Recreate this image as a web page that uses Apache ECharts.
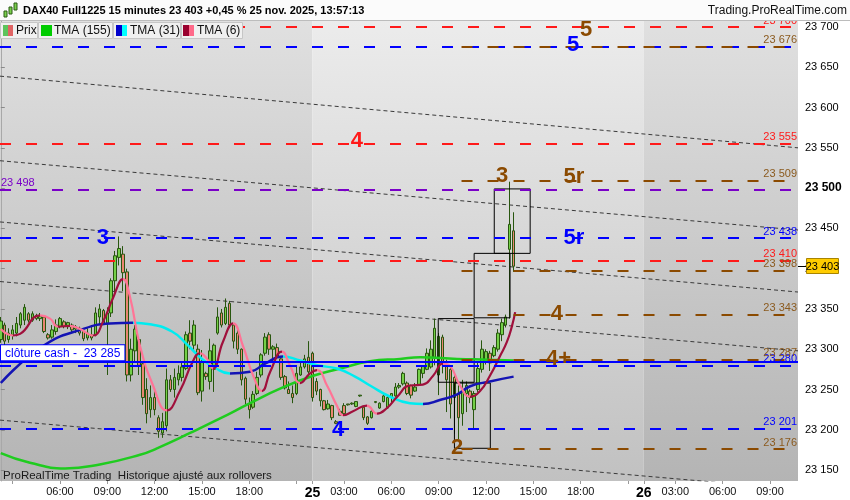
<!DOCTYPE html>
<html><head><meta charset="utf-8">
<script src="https://cdn.jsdelivr.net/npm/echarts@6/dist/echarts.min.js"></script>
<style>html,body{margin:0;padding:0;background:#fff}#c{width:850px;height:500px}</style>
</head><body><div id="c"></div>
<script>
// ---- DATA (bar index 0 = 24 nov 02:15, one bar = 15 min, 84 bars per session 01:00-22:00) ----
const candles24 = [ // [open, close, low, high]
[23312,23335,23308,23340],[23330,23310,23305,23333],[23312,23320,23308,23326],[23318,23324,23312,23330],
[23320,23332,23316,23340],[23330,23344,23326,23346],[23336,23352,23330,23356],[23344,23336,23333,23346],
[23336,23344,23334,23347],[23342,23338,23336,23344],[23338,23341,23335,23345],[23340,23322,23320,23342],
[23318,23314,23312,23320],[23315,23324,23313,23330],[23322,23330,23318,23337],[23328,23338,23326,23340],
[23334,23328,23326,23336],[23328,23333,23325,23334],[23330,23324,23321,23332],[23325,23328,23320,23330],
[23326,23320,23317,23328],[23322,23313,23310,23326],[23314,23320,23311,23326],[23318,23314,23311,23330],
[23318,23345,23316,23352],[23340,23350,23330,23356],[23348,23332,23330,23350],[23332,23345,23268,23352],
[23345,23385,23340,23388],[23385,23416,23368,23422],[23414,23425,23404,23440],[23418,23395,23372,23428],
[23396,23268,23260,23400],[23268,23300,23260,23313],[23298,23325,23285,23330],[23312,23280,23268,23314],
[23282,23240,23231,23284],[23250,23220,23208,23264],[23225,23240,23215,23255],[23240,23225,23218,23251],
[23215,23198,23190,23218],[23196,23210,23190,23221],[23205,23262,23198,23276],[23262,23250,23247,23268],
[23250,23265,23240,23276],[23262,23270,23255,23280],[23265,23278,23260,23285],[23276,23318,23274,23322],
[23320,23310,23300,23336],[23305,23330,23298,23336],[23300,23246,23243,23306],[23248,23285,23235,23299],
[23270,23266,23262,23272],[23260,23298,23250,23313],[23275,23305,23247,23307],[23320,23340,23318,23352],
[23345,23330,23327,23350],[23332,23352,23330,23363],[23357,23330,23327,23360],[23330,23310,23301,23332],
[23320,23300,23294,23326],[23300,23262,23255,23301],[23264,23238,23232,23266],[23232,23225,23214,23240],
[23228,23244,23226,23248],[23245,23265,23243,23272],[23268,23293,23265,23295],[23295,23315,23292,23320],
[23318,23300,23293,23321],[23300,23303,23284,23305],[23302,23290,23288,23307],[23288,23265,23262,23289],
[23266,23252,23250,23268],[23250,23245,23245,23260],[23245,23240,23233,23255],[23245,23270,23243,23280],
[23268,23278,23267,23284],[23278,23288,23276,23293],[23290,23272,23265,23310]
];
const candles25 = [
[23295,23240,23235,23297],[23260,23248,23243,23264],[23250,23236,23229,23251],[23236,23225,23224,23237],
[23226,23232,23225,23237],[23230,23215,23212,23231],[23210,23208,23207,23212],[23223,23218,23218,23226],
[23230,23220,23218,23233],[23232,23231,23230,23232],[23232,23233,23231,23234],[23229,23235,23228,23235],
[23242,23243,23241,23243],[23228,23215,23212,23229],[23216,23208,23206,23217],[23215,23223,23214,23225],
[23234,23235,23233,23235],[23227,23233,23226,23234],[23235,23242,23234,23245],[23227,23240,23226,23243],
[23240,23245,23233,23245],[23242,23253,23241,23258],[23253,23255,23251,23258],[23257,23270,23255,23272],
[23258,23245,23243,23260],[23255,23243,23239,23256],[23248,23253,23247,23258],[23256,23275,23255,23276],
[23270,23279,23264,23280],[23275,23295,23274,23301],[23278,23300,23276,23311],[23290,23326,23280,23338],
[23268,23316,23243,23320],[23315,23282,23270,23318],[23280,23262,23222,23287],[23275,23232,23214,23280],
[23265,23240,23195,23270],[23245,23215,23188,23255],[23220,23248,23205,23262],[23245,23255,23222,23260],
[23248,23240,23233,23250],[23225,23245,23202,23248],[23250,23276,23247,23285],[23275,23300,23271,23311],
[23285,23297,23281,23300],[23295,23283,23273,23298],[23292,23302,23290,23305],[23300,23320,23297,23325],
[23318,23333,23310,23338],[23330,23340,23327,23343],[23424,23455,23338,23508],[23447,23403,23396,23470]
];
const ma155 = [[0,23171],[7.4,23159],[16.3,23152],[25.1,23157],[35.3,23169],[39.6,23177],[48,23196],[55.6,23214],
[63.2,23233],[70.8,23251],[79.2,23267],[86,23276],[93.6,23285],[101.2,23288],[106.3,23290],[115.7,23288],[123.3,23287],[130,23286]];
const ma31 = [[0,23258],[10.7,23304],[20.8,23325],[27.7,23332],[33.5,23333],[37.8,23331],[43.4,23322],[47.2,23306],
[50.5,23290],[54.3,23277],[58.1,23270],[63.2,23272],[67,23282],[71.5,23291],[75.9,23286],[80.2,23280],[85.2,23276],
[89.8,23266],[93.6,23255],[98.7,23241],[103.7,23233],[107,23232],[111.3,23237],[115.7,23244],[119,23254],[124,23260],[130,23266]];
const ma6 = [[0,23325],[3.1,23317],[4.9,23319],[9.9,23342],[12.5,23338],[14.5,23328],[17.5,23329],[20.1,23325],[23.4,23317],
[25.9,23334],[28.4,23363],[31,23387],[32.7,23366],[35.3,23304],[38.6,23255],[42.1,23224],[45.4,23248],[48.7,23285],
[50.5,23295],[52.3,23288],[53.8,23276],[56.3,23309],[58.9,23332],[61.4,23304],[64,23267],[66.2,23248],[68.3,23272],
[71.3,23297],[73.3,23280],[75.9,23258],[78.4,23270],[80.2,23274],[82.7,23255],[85.2,23230],[86.8,23218],[89.3,23223],
[92.8,23230],[95.4,23220],[97.9,23227],[100.5,23241],[103.7,23255],[107,23256],[109.6,23267],[112.1,23282],[113.9,23279],
[116.4,23255],[119,23241],[121.5,23248],[124,23267],[126.6,23292],[128.3,23309],[129.6,23329],[130.4,23346]];
const trendLines = [ // [startBar, startPrice, endBar, endPrice]
[-0.2,23639,202.1,23550],[-0.2,23534,202.1,23448],[-0.2,23458,202.1,23371],[-0.2,23384,202.1,23298],[-0.2,23212,202.1,23126]];
const redLevels = [23700, 23555, 23410];
const blueLevels = [23676, 23438, 23280, 23201];
const purpleLevels = [23498];
const brownLevels = [23676, 23509, 23398, 23343, 23287, 23176];
const brownFromBar = 116.8;
const cashClose = 23285;
const lastPrice = 23403;
const annotations = [ // [bar, price, text, family]
[102,23713,'4r','red'],[148.4,23696,'5','brown'],[145.1,23678,'5','blue'],[90.3,23559,'4','red'],
[127.1,23515,'3','brown'],[145.3,23514,'5r','brown'],[25.9,23438,'3','blue'],[145.3,23438,'5r','blue'],
[141,23344,'4','brown'],[141.4,23288,'4+','brown'],[85.5,23200,'4','blue'],[115.7,23177,'2','brown']];
const boxes = [[110.9,120,23259,23338],[115,124.1,23177,23258],[120,129.1,23339,23419],[125.1,134.2,23419,23499]];
const dayBands = [[-0.2,79],[79,163],[163,202.1]];
const xTickBars = [3,15,27,39,51,63,75,79,87,99,111,123,135,147,159,163,171,183,195];
const xTickLabels = ['','06:00','09:00','12:00','15:00','18:00','','25','03:00','06:00','09:00','12:00','15:00','18:00','','26','03:00','06:00','09:00'];
const yTicks = [23150,23200,23250,23300,23350,23400,23450,23500,23550,23600,23650,23700];
const X_MIN = -0.2, X_MAX = 202.1, Y_MIN = 23136.4, Y_MAX = 23708.7;

// ---- build ----
const FONT = "'Liberation Sans', Arial, sans-serif";
const COL = {red:'#ff1a1a', blue:'#0000ff', purple:'#7a00c8', brown:'#8b4a00'};
const fmt = v => { const s = String(Math.round(v)); return s.slice(0, s.length-3) + ' ' + s.slice(-3); };
const candleData = candles24.concat(candles25).map((d,i) => [i].concat(d));
const dash = [11, 15];

function pieces(pts, upColor, downColor) {
  const out = [];
  let start = -10, dir = null;
  for (let i = 0; i < pts.length - 1; i++) {
    const up = pts[i+1][1] >= pts[i][1];
    if (dir === null) dir = up;
    else if (up !== dir) { out.push({gte:start, lt:pts[i][0], color: dir?upColor:downColor}); start = pts[i][0]; dir = up; }
  }
  out.push({gte:start, lte:1000, color: dir?upColor:downColor});
  return out;
}

function levelLine(v, color, withLabel, labelPos) {
  return {yAxis:v, lineStyle:{color, type:dash, width:2},
    label:{show:withLabel, position:labelPos||'insideEndTop', formatter:fmt(v), color, fontSize:11, fontFamily:FONT, distance:1}};
}
const markLines = [];
redLevels.forEach(v => markLines.push(levelLine(v, COL.red, true)));
blueLevels.forEach(v => markLines.push(levelLine(v, COL.blue, v !== 23676)));
purpleLevels.forEach(v => markLines.push(levelLine(v, COL.purple, true, 'insideStartTop')));
brownLevels.forEach(v => markLines.push([
  {coord:[brownFromBar, v], lineStyle:{color:COL.brown, type:dash, width:2},
   label:{show:true, position:'insideEndTop', formatter:fmt(v), color:'#8b5a1e', fontSize:11, fontFamily:FONT, distance:1}},
  {coord:[X_MAX, v]}]));
markLines.push({yAxis:cashClose, lineStyle:{color:'#0000ff', type:'solid', width:2},
  label:{show:true, position:'insideStartTop', formatter:'clôture cash -  ' + fmt(cashClose), color:'#0000ff',
    backgroundColor:'#fff', borderColor:'#0000ff', borderWidth:1, padding:[2,4,1,4], fontSize:12, fontFamily:FONT, distance:1}});

const series = [];
// background day bands
series.push({type:'line', data:[], z:0, silent:true,
  markArea:{silent:true, z:0, data: dayBands.map((b,i) => [{xAxis:b[0], itemStyle:{color:{type:'linear',x:0,y:0,x2:0,y2:1,
    colorStops: i%2 ? [{offset:0,color:'#ececec'},{offset:1,color:'#c1c1c1'}] : [{offset:0,color:'#e0e0e0'},{offset:1,color:'#b4b4b4'}]}}}, {xAxis:b[1]}])}});
// trend lines
trendLines.forEach(t => series.push({type:'line', data:[[t[0],t[1]],[t[2],t[3]]], showSymbol:false, silent:true, z:2,
  lineStyle:{color:'#3a3a3a', width:1, type:[4,3]}}));
// candles
series.push({type:'candlestick', data:candleData, encode:{x:0, y:[1,2,3,4]}, barWidth:3, z:3,
  itemStyle:{color:'#74d048', color0:'#ea8672', borderColor:'#28560f', borderColor0:'#28560f', borderWidth:1}});
// boxes
series.push({type:'line', data:[], z:4, silent:true,
  markArea:{silent:true, z:4, itemStyle:{color:'rgba(0,0,0,0)', borderColor:'#000', borderWidth:1},
    data: boxes.map(b => [{coord:[b[0], b[3]]}, {coord:[b[1], b[2]]}])}});
// moving averages
series.push({type:'line', name:'TMA (155)', data:ma155, smooth:0.5, showSymbol:false, z:5, lineStyle:{color:'#1fcc1f', width:2.5}});
const idx31 = series.length;
series.push({type:'line', name:'TMA (31)', data:ma31, smooth:0.5, showSymbol:false, z:5, lineStyle:{width:2.5}});
const idx6 = series.length;
series.push({type:'line', name:'TMA (6)', data:ma6, smooth:0.5, showSymbol:false, z:5, lineStyle:{width:2.2}});
// level lines
series.push({type:'line', data:[], z:6, silent:true, markLine:{silent:true, symbol:'none', z:6, animation:false, data:markLines}});
// annotations
series.push({type:'line', data:[], z:7, silent:true, markPoint:{silent:true, symbol:'circle', symbolSize:1, z:7,
  itemStyle:{color:'rgba(0,0,0,0)'},
  data: annotations.map(a => ({coord:[a[0],a[1]], name:a[2],
    label:{show:true, position:'inside', formatter:'{b}', color:COL[a[3]], fontSize:22, fontWeight:'bold', fontFamily:FONT}}))}});

const chart = echarts.init(document.getElementById('c'));
chart.setOption({
  animation:false,
  textStyle:{fontFamily:FONT},
  grid:{left:0, right:52, top:20, bottom:17, containLabel:false},
  xAxis:{type:'value', min:X_MIN, max:X_MAX, splitLine:{show:false}, axisLine:{show:false},
    axisTick:{show:true, customValues:xTickBars, length:3, lineStyle:{color:'#9a9a9a'}},
    axisLabel:{customValues:xTickBars, margin:5, fontSize:11, color:'#111', showMinLabel:true, showMaxLabel:true,
      formatter:v => { const k = xTickBars.indexOf(Math.round(v)); const t = k < 0 ? '' : xTickLabels[k];
        return (t.length === 2) ? '{d|' + t + '}' : t; },
      rich:{d:{fontSize:14, fontWeight:'bold', color:'#000'}}}},
  yAxis:{type:'value', position:'right', min:Y_MIN, max:Y_MAX, scale:true, splitLine:{show:false}, z:1,
    axisLine:{show:true, lineStyle:{color:'#a8a8a8'}},
    axisTick:{show:true, customValues:yTicks, length:4, lineStyle:{color:'#8a8a8a'}},
    axisLabel:{customValues:yTicks, margin:7, fontSize:11, color:'#000',
      formatter:v => v === 23500 ? '{b|' + fmt(v) + '}' : fmt(v), rich:{b:{fontWeight:'bold', fontSize:12, color:'#000'}}}},
  visualMap:[
    {type:'piecewise', show:false, seriesIndex:idx31, dimension:0, pieces:pieces(ma31, '#1414b4', '#00ecf0')},
    {type:'piecewise', show:false, seriesIndex:idx6, dimension:0, pieces:pieces(ma6, '#a0103c', '#ff7496')}
  ],
  series
});

// overlay: header, legend, footer text and last-price tag (tag placed through the y scale)
const tagY = chart.convertToPixel({yAxisIndex:0}, lastPrice);
const axisX = chart.convertToPixel({xAxisIndex:0}, X_MAX);
const legendCells = [[0,37,'Prix',16],[38,112,'TMA (155)',54],[113,180,'TMA (31)',130],[181,242,'TMA (6)',197]];
const graphic = [
  {type:'rect', z:100, shape:{x:0,y:0,width:850,height:20}, style:{fill:'#fbfbfb'}},
  {type:'line', z:100, shape:{x1:0,y1:20.5,x2:850,y2:20.5}, style:{stroke:'#bcbcbc', lineWidth:1}},
  {type:'rect', z:101, shape:{x:4,y:11,width:3,height:6}, style:{fill:'#7ad04c', stroke:'#2b5a14', lineWidth:1}},
  {type:'rect', z:101, shape:{x:9,y:7,width:3,height:7}, style:{fill:'#7ad04c', stroke:'#2b5a14', lineWidth:1}},
  {type:'rect', z:101, shape:{x:14,y:3,width:3,height:7}, style:{fill:'#7ad04c', stroke:'#2b5a14', lineWidth:1}},
  {type:'text', z:101, x:23, y:11, style:{text:'DAX40 Full1225 15 minutes 23 403 +0,45 % 25 nov. 2025, 13:57:13', font:'bold 11px '+FONT, fill:'#000', verticalAlign:'middle'}},
  {type:'text', z:101, x:847, y:11, style:{text:'Trading.ProRealTime.com', font:'12px '+FONT, fill:'#111', align:'right', verticalAlign:'middle'}},
  {type:'text', z:101, x:3, y:476, style:{text:'ProRealTime Trading  Historique ajusté aux rollovers', font:'11.5px '+FONT, fill:'#1a1a1a', verticalAlign:'middle'}},
  {type:'line', z:101, shape:{x1:axisX, y1:Math.round(tagY)+0.5, x2:axisX+8, y2:Math.round(tagY)+0.5}, style:{stroke:'#000', lineWidth:1}},
  {type:'rect', z:101, shape:{x:axisX+8.5, y:Math.round(tagY)-7.5, width:32, height:15}, style:{fill:'#ffcc00', stroke:'#a88400', lineWidth:1}},
  {type:'text', z:102, x:axisX+24.5, y:Math.round(tagY)+0.5, style:{text:fmt(lastPrice), font:'11px '+FONT, fill:'#000', align:'center', verticalAlign:'middle'}}
];
legendCells.forEach(c => {
  graphic.push({type:'rect', z:101, shape:{x:c[0]+0.5,y:22.5,width:c[1]-c[0],height:16}, style:{fill:'#f0f0f0', stroke:'#c6c6c6', lineWidth:1}});
  graphic.push({type:'text', z:102, x:c[3], y:31, style:{text:c[2], font:'12px '+FONT, fill:'#111', verticalAlign:'middle'}});
});
[[3,25,5,11,'#5cc45c'],[8,25,5,11,'#e06464'],[41,25,11,11,'#00cc00'],[116,25,6,11,'#0000cc'],[122,25,5,11,'#00ffff'],
 [183,25,6,11,'#99002e'],[189,25,5,11,'#ff6a8a']].forEach(r =>
  graphic.push({type:'rect', z:102, shape:{x:r[0],y:r[1],width:r[2],height:r[3]}, style:{fill:r[4]}}));
chart.setOption({graphic});
</script></body></html>
